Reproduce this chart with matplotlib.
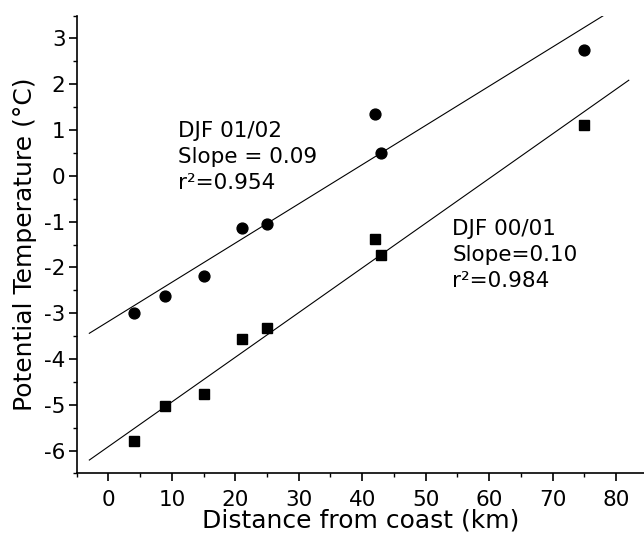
import matplotlib

matplotlib.use("Agg")
import matplotlib.pyplot as plt
import numpy as np
from matplotlib.ticker import MultipleLocator

plt.rcParams["font.family"] = ["DejaVu Sans"]
plt.rcParams["axes.unicode_minus"] = False

# distance from coast (km)
distance = [4, 9, 15, 21, 25, 42, 43, 75]
# DJF 01/02 (circles)
temp_0102 = [-3.0, -2.63, -2.18, -1.15, -1.05, 1.35, 0.5, 2.75]
# DJF 00/01 (squares)
temp_0001 = [-5.8, -5.03, -4.77, -3.57, -3.32, -1.37, -1.72, 1.1]

fit_x = np.array([-3, 82])
FS = 15.5
LABEL_FS = 18

fig = plt.figure(figsize=(6.44, 5.38), dpi=100)
ax = fig.add_axes([0.119, 0.120, 0.881, 0.851])

for temps, marker, ms in ((temp_0102, "o", 7.8), (temp_0001, "s", 7.2)):
    ax.plot(distance, temps, linestyle="none", marker=marker, color="black", markersize=ms)
    slope, icpt = np.polyfit(distance, temps, 1)
    ax.plot(fit_x, slope * fit_x + icpt, color="black", linewidth=0.8)

ax.text(11.0, 1.20, "DJF 01/02\nSlope = 0.09\nr²=0.954", fontsize=FS,
        linespacing=1.38, va="top", ha="left")
ax.text(54.2, -0.95, "DJF 00/01\nSlope=0.10\nr²=0.984", fontsize=FS,
        linespacing=1.38, va="top", ha="left")

ax.set_xlim(-5, 84.4)
ax.set_ylim(-6.5, 3.5)
ax.xaxis.set_major_locator(MultipleLocator(10))
ax.xaxis.set_minor_locator(MultipleLocator(5))
ax.yaxis.set_major_locator(MultipleLocator(1))
ax.yaxis.set_minor_locator(MultipleLocator(0.5))
ax.spines["top"].set_visible(False)
ax.spines["right"].set_visible(False)
for s in ("left", "bottom"):
    ax.spines[s].set_linewidth(1.2)
ax.tick_params(which="major", length=6, width=1.2, labelsize=FS, direction="out", pad=2)
ax.tick_params(axis="x", which="major", pad=6)
ax.tick_params(which="minor", length=3, width=1.0, direction="out")

ax.set_xlabel("Distance from coast (km)", fontsize=LABEL_FS, labelpad=-1)
ax.set_ylabel("Potential Temperature (°C)", fontsize=LABEL_FS, labelpad=5)

fig.savefig("out.png", dpi=100)
